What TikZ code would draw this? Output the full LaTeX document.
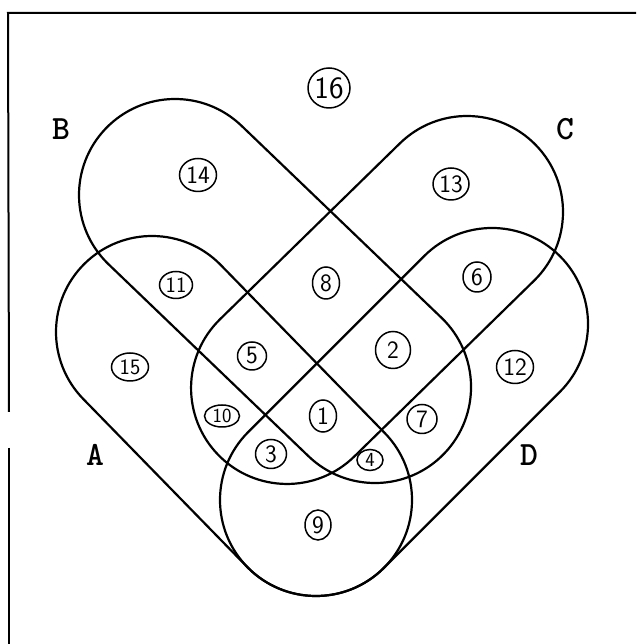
\documentclass[tikz,border=0pt]{standalone}
\usetikzlibrary{shapes.geometric}
\tikzset{
  venn/.style={draw=black, line width=2.2pt, line join=round},
  frameline/.style={draw=black, line width=2pt},
  num/.style={draw=black, ellipse, line width=1.5pt, inner sep=0pt,
    font=\sffamily\fontsize{25}{25}\selectfont},
  setlab/.style={inner sep=0pt, font=\ttfamily\bfseries\fontsize{34}{34}\selectfont}
}
\begin{document}
\begin{tikzpicture}[x=1pt,y=1pt]
\useasboundingbox (0,0) rectangle (636,644);
% frame
\coordinate (f1) at (636,631);
\coordinate (f2) at (8,631);
\coordinate (f3) at (9,232);
\coordinate (f4) at (9,196);
\coordinate (f5) at (9,0);
\draw[frameline] (f1) -- (f2) -- (f3);
\draw[frameline] (f4) -- (f5);
% B
\begin{scope}[shift={(175,449)}, rotate=-43.83]
\draw[venn] (0,96) -- (277.3,96) arc[start angle=90,end angle=-90,radius=96pt] -- (0,-96) arc[start angle=270,end angle=90,radius=96pt] -- cycle;
\end{scope}
% C
\begin{scope}[shift={(467,432)}, rotate=-135.64]
\draw[venn] (0,96) -- (251.7,96) arc[start angle=90,end angle=-90,radius=96pt] -- (0,-96) arc[start angle=270,end angle=90,radius=96pt] -- cycle;
\end{scope}
% A
\begin{scope}[shift={(152,312)}, rotate=-45.69]
\draw[venn] (0,96) -- (234.8,96) arc[start angle=90,end angle=-90,radius=96pt] -- (0,-96) arc[start angle=270,end angle=90,radius=96pt] -- cycle;
\end{scope}
% D
\begin{scope}[shift={(492,320)}, rotate=-135]
\draw[venn] (0,96) -- (248.9,96) arc[start angle=90,end angle=-90,radius=96pt] -- (0,-96) arc[start angle=270,end angle=90,radius=96pt] -- cycle;
\end{scope}
% set labels
\node[setlab] (lA) at (95,189) {A};
\node[setlab] (lB) at (61,515) {B};
\node[setlab] (lC) at (565,515) {C};
\node[setlab] (lD) at (529,189) {D};
% region numbers
\node[num, minimum width=42pt, minimum height=40pt, font=\sffamily\fontsize{31}{31}\selectfont] (n16) at (329,556) {16};
\node[num, minimum width=37pt, minimum height=33pt] (n14) at (198,469) {14};
\node[num, minimum width=36pt, minimum height=32pt] (n13) at (451,460) {13};
\node[num, minimum width=33pt, minimum height=27pt, font=\sffamily\fontsize{22}{22}\selectfont] (n11) at (176,359) {11};
\node[num, minimum width=27pt, minimum height=32pt] (n8) at (326,361) {8};
\node[num, minimum width=28pt, minimum height=30pt] (n6) at (477,367) {6};
\node[num, minimum width=29pt, minimum height=28pt] (n5) at (252,288) {5};
\node[num, minimum width=35pt, minimum height=37pt] (n2) at (393,294) {2};
\node[num, minimum width=37pt, minimum height=28pt, font=\sffamily\fontsize{22}{22}\selectfont] (n15) at (130,277) {15};
\node[num, minimum width=37pt, minimum height=33pt] (n12) at (515,277) {12};
\node[num, minimum width=35pt, minimum height=22pt, font=\sffamily\fontsize{20}{20}\selectfont] (n10) at (222,228) {10};
\node[num, minimum width=27pt, minimum height=32pt] (n1) at (323,228) {1};
\node[num, minimum width=30pt, minimum height=29pt] (n7) at (422,225) {7};
\node[num, minimum width=31pt, minimum height=29pt] (n3) at (271,190) {3};
\node[num, minimum width=26pt, minimum height=21pt, font=\sffamily\fontsize{20}{20}\selectfont] (n4) at (370,184) {4};
\node[num, minimum width=26pt, minimum height=30pt] (n9) at (318,119) {9};
\end{tikzpicture}
\end{document}
